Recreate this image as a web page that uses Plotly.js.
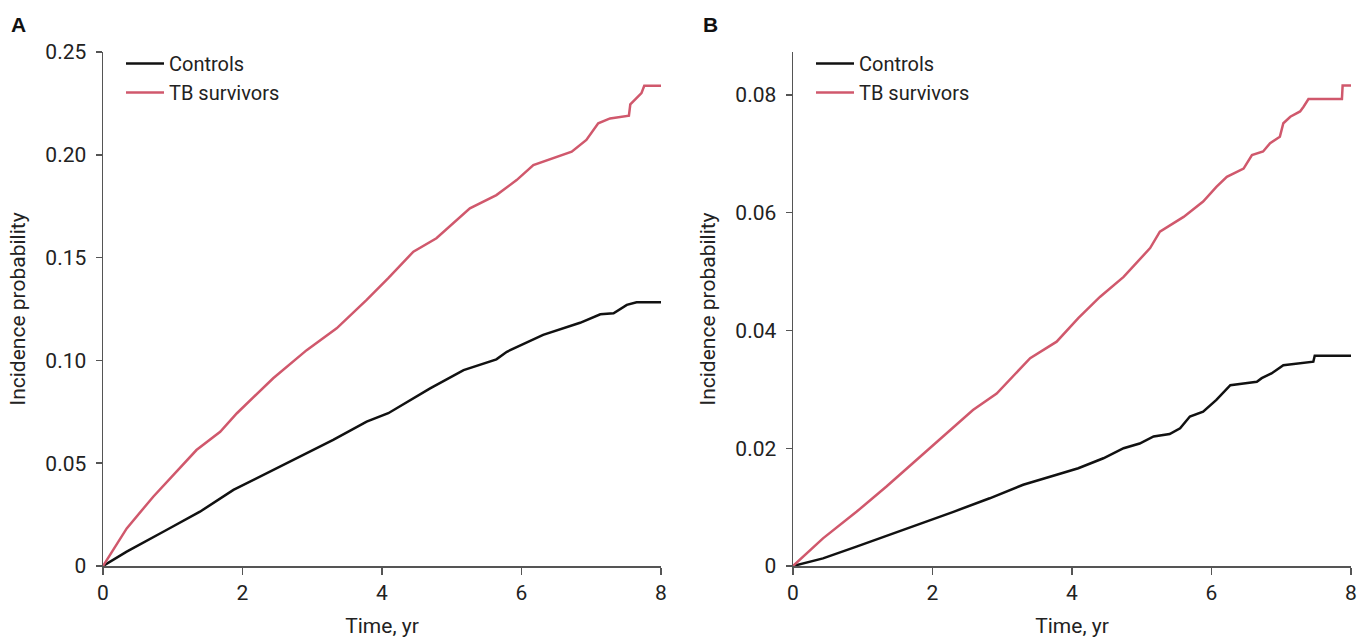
<!DOCTYPE html>
<html>
<head>
<meta charset="utf-8">
<script src="https://cdn.plot.ly/plotly-3.0.1.min.js"></script>
<style>html,body{margin:0;padding:0;background:#fff;}#chart{width:1368px;height:638px;}</style>
</head>
<body>
<div id="chart"></div>
<script>
// Panel A
const aControlsT = [0, 0.34, 0.91, 1.39, 1.87, 2.35, 2.82, 3.30, 3.78, 4.09, 4.69, 5.17, 5.64, 5.79, 6.31, 6.84, 7.13, 7.32, 7.51, 7.65, 8.0];
const aControlsV = [0, 0.007, 0.0175, 0.0264, 0.037, 0.0451, 0.0532, 0.0613, 0.0702, 0.0743, 0.0864, 0.0953, 0.1005, 0.1042, 0.1124, 0.1183, 0.1224, 0.1229, 0.127, 0.1283, 0.1283];
const aTbT = [0, 0.34, 0.72, 0.985, 1.34, 1.68, 1.92, 2.44, 2.92, 3.35, 3.78, 4.09, 4.45, 4.78, 5.26, 5.64, 5.93, 6.17, 6.55, 6.72, 6.93, 7.10, 7.27, 7.54, 7.56, 7.62, 7.67, 7.72, 7.76, 8.0];
const aTbV = [0, 0.0183, 0.0337, 0.0434, 0.0564, 0.0653, 0.0743, 0.0913, 0.105, 0.1156, 0.1294, 0.140, 0.1529, 0.1594, 0.174, 0.1804, 0.1877, 0.195, 0.1994, 0.2015, 0.2072, 0.2153, 0.2177, 0.219, 0.2245, 0.2265, 0.2283, 0.230, 0.2336, 0.2336];
// Panel B
const bControlsT = [0, 0.43, 0.91, 1.39, 1.87, 2.30, 2.82, 3.30, 3.78, 4.09, 4.45, 4.74, 4.97, 5.17, 5.40, 5.55, 5.69, 5.88, 6.07, 6.27, 6.46, 6.65, 6.72, 6.86, 7.03, 7.22, 7.46, 7.48, 8.0];
const bControlsV = [0, 0.0013, 0.0033, 0.0053, 0.0073, 0.0092, 0.0115, 0.0138, 0.0155, 0.0166, 0.0183, 0.02, 0.0208, 0.022, 0.0224, 0.0234, 0.0254, 0.0262, 0.0282, 0.0307, 0.031, 0.0313, 0.0319, 0.0327, 0.0341, 0.0344, 0.0347, 0.0357, 0.0357];
const bTbT = [0, 0.43, 0.91, 1.34, 1.96, 2.58, 2.92, 3.40, 3.78, 4.09, 4.40, 4.74, 5.12, 5.26, 5.60, 5.88, 6.07, 6.22, 6.46, 6.58, 6.74, 6.84, 6.98, 7.03, 7.13, 7.27, 7.32, 7.39, 7.87, 7.88, 8.0];
const bTbV = [0, 0.0047, 0.0092, 0.0135, 0.020, 0.0265, 0.0293, 0.0353, 0.0381, 0.0421, 0.0457, 0.0491, 0.054, 0.0568, 0.0593, 0.0619, 0.0644, 0.0661, 0.0675, 0.0698, 0.0704, 0.0718, 0.0729, 0.0752, 0.0763, 0.0772, 0.078, 0.0793, 0.0793, 0.0816, 0.0816];

const xTicks = [0, 2, 4, 6, 8];
const aYTicks = [0, 0.05, 0.10, 0.15, 0.20, 0.25];
const aYLabels = ['0', '0.05', '0.10', '0.15', '0.20', '0.25'];
const bYTicks = [0, 0.02, 0.04, 0.06, 0.08];
const bYLabels = ['0', '0.02', '0.04', '0.06', '0.08'];
const seriesNames = ['Controls', 'TB survivors'];
const panelLabels = ['A', 'B'];

const BLACK = '#111111', RED = '#d0586c';
const FONT = 'Roboto, "Liberation Sans", Arial, sans-serif';
const W = 1368, H = 638;

const traces = [
  {x: aControlsT, y: aControlsV, name: seriesNames[0], xaxis: 'x', yaxis: 'y', legend: 'legend', mode: 'lines', line: {color: BLACK, width: 2.5}},
  {x: aTbT, y: aTbV, name: seriesNames[1], xaxis: 'x', yaxis: 'y', legend: 'legend', mode: 'lines', line: {color: RED, width: 2.5}},
  {x: bControlsT, y: bControlsV, name: seriesNames[0], xaxis: 'x2', yaxis: 'y2', legend: 'legend2', mode: 'lines', line: {color: BLACK, width: 2.5}},
  {x: bTbT, y: bTbV, name: seriesNames[1], xaxis: 'x2', yaxis: 'y2', legend: 'legend2', mode: 'lines', line: {color: RED, width: 2.5}}
];

function xAxis(dom, anchor) {
  return {domain: dom, anchor: anchor, range: [0, 8], tickvals: xTicks, ticks: 'outside', ticklen: 7, tickwidth: 1.5,
    tickcolor: '#555', showline: true, linecolor: '#555', linewidth: 1.5, showgrid: false, zeroline: false,
    tickfont: {family: FONT, size: 21, color: '#222'}, automargin: false,
    title: {text: 'Time, yr', font: {family: FONT, size: 21, color: '#222'}, standoff: 15}};
}
function yAxis(dom, anchor, range, vals, labels) {
  return {domain: dom, anchor: anchor, range: range, tickvals: vals, ticktext: labels, ticks: 'outside', ticklen: 6, tickwidth: 1.5,
    tickcolor: '#555', showline: true, linecolor: '#555', linewidth: 1.5, showgrid: false, zeroline: false,
    tickfont: {family: FONT, size: 21, color: '#222'}, automargin: false, ticklabelstandoff: 5,
    title: {text: 'Incidence probability', font: {family: FONT, size: 21, color: '#222'}, standoff: 14}};
}

const yDom = [(H - 566) / H, (H - 52) / H];
const legendFont = {family: FONT, size: 20, color: '#222'};
const layout = {
  width: W, height: H,
  margin: {l: 0, r: 0, t: 0, b: 0},
  paper_bgcolor: '#fff', plot_bgcolor: '#fff',
  showlegend: true,
  xaxis: xAxis([103 / W, 661 / W], 'y'),
  yaxis: yAxis(yDom, 'x', [0, 0.25], aYTicks, aYLabels),
  xaxis2: xAxis([793 / W, 1351 / W], 'y2'),
  yaxis2: yAxis(yDom, 'x2', [0, 0.0873], bYTicks, bYLabels),
  legend: {x: 121 / W, y: (H - 44) / H, xanchor: 'left', yanchor: 'top', bgcolor: 'rgba(0,0,0,0)', itemwidth: 38, font: legendFont},
  legend2: {x: 811 / W, y: (H - 44) / H, xanchor: 'left', yanchor: 'top', bgcolor: 'rgba(0,0,0,0)', itemwidth: 38, font: legendFont},
  annotations: [
    {text: '<b>' + panelLabels[0] + '</b>', xref: 'paper', yref: 'paper', x: 9 / W, y: (H - 11) / H, xanchor: 'left', yanchor: 'top', showarrow: false,
      font: {family: '"Liberation Sans", Arial, sans-serif', size: 21, color: '#111'}},
    {text: '<b>' + panelLabels[1] + '</b>', xref: 'paper', yref: 'paper', x: 701 / W, y: (H - 11) / H, xanchor: 'left', yanchor: 'top', showarrow: false,
      font: {family: '"Liberation Sans", Arial, sans-serif', size: 21, color: '#111'}}
  ]
};

Plotly.newPlot('chart', traces, layout, {displayModeBar: false, staticPlot: true});
</script>
</body>
</html>
